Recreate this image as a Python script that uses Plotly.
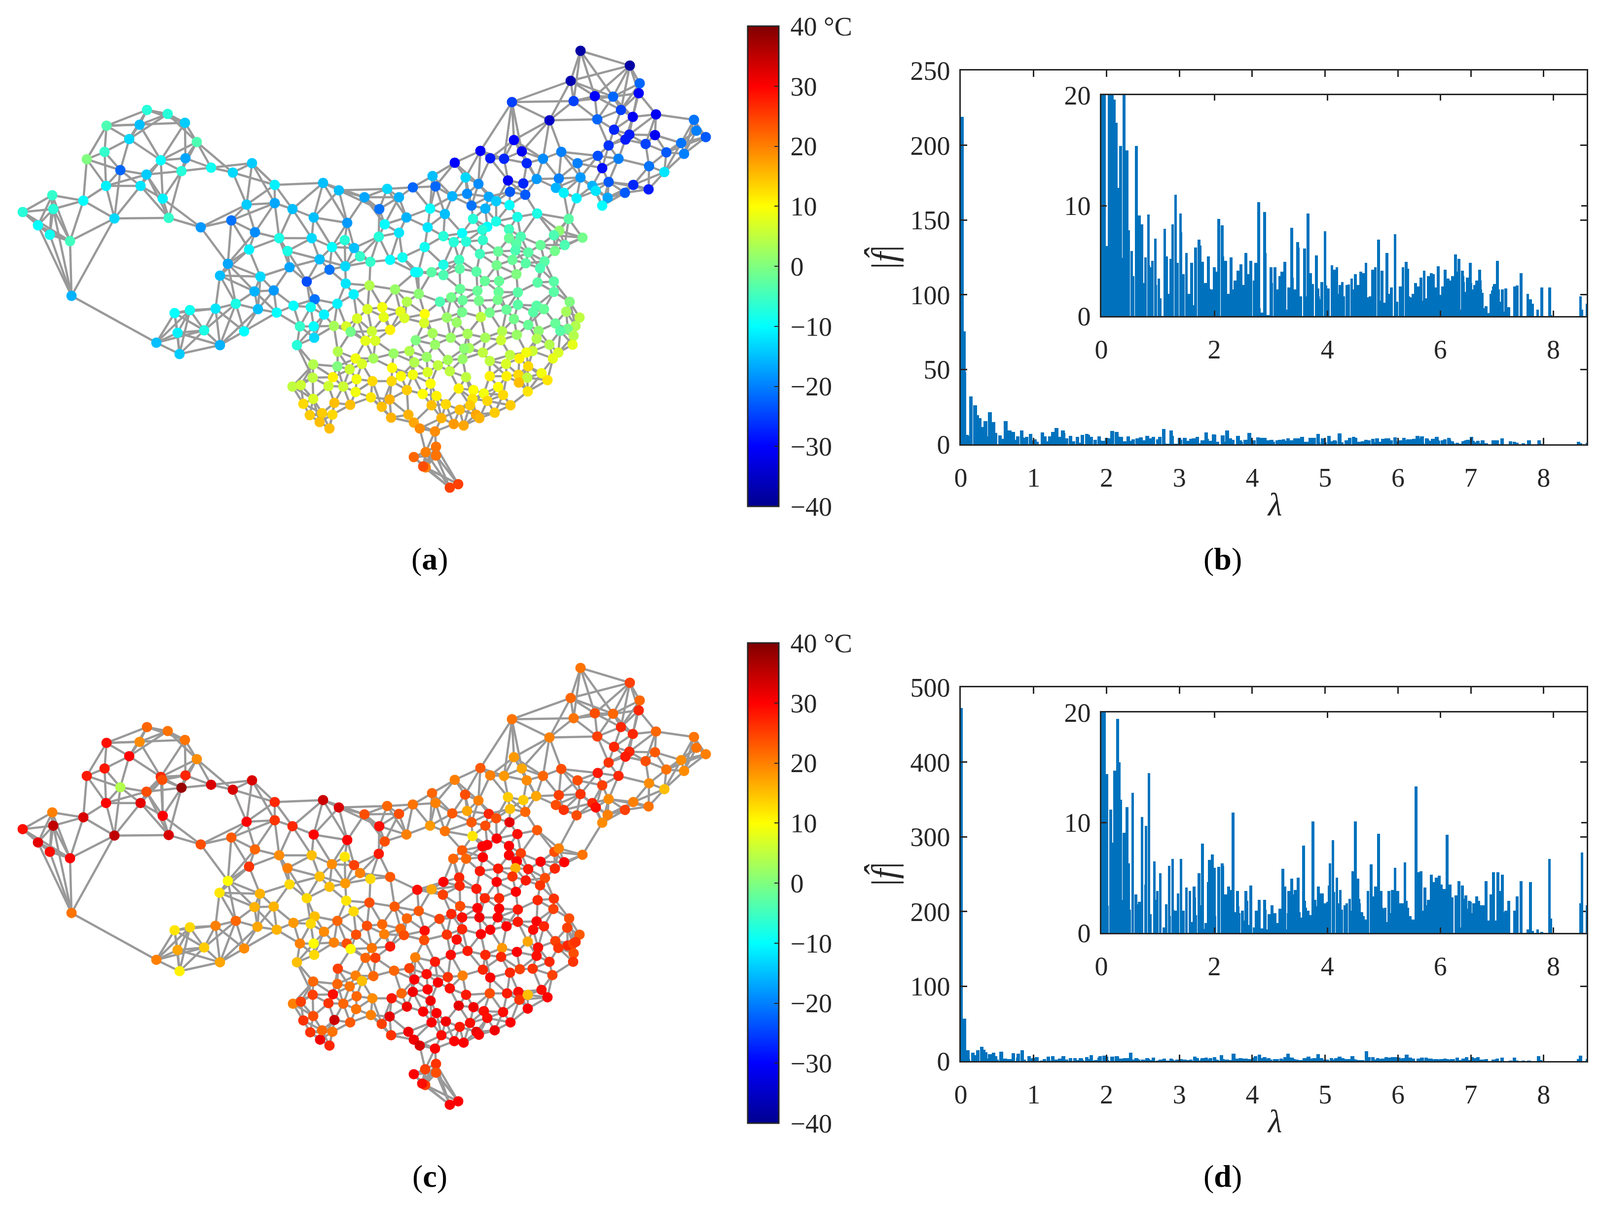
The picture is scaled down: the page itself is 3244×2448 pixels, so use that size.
import numpy as np
import plotly.graph_objects as go

# station positions (map units of the figure) and temperatures, panel (a)
X_A = [298,340,375,283,216,399,262,212,326,376,
       176,428,511,244,368,472,297,215,285,557,
       655,687,785,739,106,169,330,108,46,232,
       342,500,557,593,769,636,469,704,780,407,
       77,101,142,517,566,632,699,768,505,583,
       673,718,730,751,791,462,648,700,668,587,
       446,528,622,701,516,555,717,638,478,595,
       684,437,523,630,561,657,495,414,608,636,
       637,446,602,145,354,385,360,317,364,816,
       1177,1277,1157,1297,1295,1206,1243,1163,1038,1259,
       1330,1283,1114,1211,1407,1245,1412,1328,1276,1268,
       1431,1042,1309,1381,1234,974,1058,1138,1351,1387,
       1212,1101,994,1022,1254,922,1068,1171,1316,1221,
       1347,877,944,1177,1133,1088,1030,970,1061,1234,
       1201,1284,883,837,1127,1315,1208,1034,1267,1143,
       947,809,917,1065,991,1232,1169,1006,1033,1221,
       956,872,984,902,824,1089,1153,959,1049,1006,
       988,867,1032,978,1134,809,937,899,1123,1056,
       1032,1181,920,945,979,1096,1145,1047,861,1125,
       1010,1071,1045,973,1104,1039,931,1066,1007,1095,
       899,932,966,1047,848,875,899,842,
       749,801,849,933,983,1012,1090,1123,1123,1050,
       1011,968,915,938,892,971,1009,1050,1088,1155,
       825,1103,1081,1027,993,937,906,861,775,745,
       812,820,724,778,975,1042,1148,1175,926,860,
       677,702,791,754,711,1071,1126,1167,1018,1092,
       1151,1136,877,948,1048,984,914,1163,1088,843,
       1016,741,761,882,1114,1161,951,941,685,979,
       1080,830,1034,1067,1132,1121,721,1053,798,865,
       993,908,938,757,840,635,1026,734,684,888,
       1071,709,795,867,912,1051,993,1027,945,1098,
       837,813,675,634,723,755,794,1069,1110,1052,
       873,593,610,666,696,930,1010,721,960,825,
       981,857,1070,1020,752,885,635,790,958,988,
       615,678,710,875,904,1035,774,953,932,653,
       674,628,828,965,1003,895,972,793,839,648,
       920,940,851,668,882,884,863,884,839,863,
       858,929,912]
Y_A = [223,231,249,253,255,288,282,308,325,321,
       323,340,331,345,347,350,354,377,377,375,
       371,386,383,400,396,407,403,424,430,443,
       442,415,412,424,424,441,447,452,455,461,
       457,476,489,471,483,483,487,480,506,509,
       501,503,520,531,527,535,526,540,547,542,
       559,561,571,575,591,589,597,607,616,620,
       616,626,627,623,634,638,672,670,662,662,
       685,700,700,600,635,629,675,695,718,522,
       103,133,164,169,189,195,196,205,207,223,
       232,237,244,242,243,263,265,274,273,283,
       278,284,292,290,295,306,307,308,309,312,
       316,322,321,322,322,330,331,331,337,341,
       349,357,360,360,362,363,366,373,372,369,
       377,375,378,380,381,384,387,389,391,391,
       393,400,398,395,399,401,402,408,416,417,
       417,423,423,434,441,433,444,444,440,449,
       460,461,465,466,468,472,473,479,477,480,
       483,482,491,490,487,497,497,495,501,509,
       510,512,508,515,530,527,527,534,538,544,
       537,545,551,556,552,552,558,552,
       579,587,596,586,570,570,573,571,592,593,
       592,590,603,609,612,610,608,618,620,612,
       612,627,633,628,634,633,644,637,623,627,
       632,645,646,643,643,647,632,644,654,655,
       661,662,669,672,673,659,656,661,672,671,
       667,671,676,677,679,685,685,681,687,690,
       690,691,691,699,699,699,706,707,713,715,
       712,712,720,715,715,727,727,727,717,724,
       732,730,728,727,735,739,738,738,743,741,
       743,749,746,755,753,760,763,763,765,757,
       760,763,765,766,769,773,773,766,771,776,
       778,784,781,783,784,788,785,795,791,791,
       798,799,794,801,806,803,809,810,809,813,
       819,817,821,822,820,822,825,822,831,838,
       841,842,841,841,837,848,848,847,857,856,
       860,863,869,869,875,906,917,924,927,948,
       946,982,989]
T_A = [-7,-7,-14,-15,-4,-4,-13,-6,-10,-17,
       0,-9,-14,-22,-7,-13,-14,-11,-12,-11,
       -15,-15,-13,-17,-6,-10,-11,-7,-7,-13,
       -6,-14,-17,-15,-21,-15,-21,-18,-10,-18,
       -10,-9,-5,-19,-8,-13,-7,-7,-11,-8,
       -10,-15,-6,-6,-10,-17,-15,-13,-21,-17,
       -15,-13,-24,-12,-16,-18,-11,-21,-8,-10,
       -11,-12,-15,-9,-10,-11,-10,-8,-6,-10,
       -13,-16,-7,-16,-10,-9,-11,-15,-14,-9,
       -38,-38,-37,-22,-30,-30,-22,-25,-25,-25,
       -31,-31,-35,-22,-21,-27,-20,-31,-28,-28,
       -23,-30,-25,-21,-26,-30,-31,-20,-23,-20,
       -24,-19,-28,-27,-20,-30,-27,-20,-21,-29,
       -12,-15,-13,-18,-20,-18,-31,-19,-27,-23,
       -16,-27,-22,-22,-16,-28,-12,-23,-23,-11,
       -19,-16,-16,-23,-17,-17,-11,-14,-10,-10,
       -21,-10,-16,-15,-16,-8,-3,-7,-8,-8,
       -10,-12,-5,-7,1,-12,-10,-7,-4,-4,
       -2,-1,-7,-7,-6,-2,-4,-3,-9,-1,
       -2,-3,-4,-5,-3,-2,-5,-3,-1,-4,
       -8,-3,-3,0,-7,-3,-4,-10,
       4,2,1,-2,-2,-2,-3,-3,-3,-3,
       -2,-2,-1,-2,-4,-1,-1,-3,-3,0,
       4,-2,-3,-2,-1,-1,2,10,9,7,
       8,7,7,8,5,-1,3,5,2,7,
       3,7,11,6,-1,-2,-2,4,4,1,
       -1,-3,3,3,2,3,2,4,4,0,
       6,8,7,2,4,8,3,1,4,5,
       6,4,5,9,7,8,9,11,2,2,
       5,3,2,3,4,4,7,7,0,5,
       13,6,10,7,5,13,11,11,5,9,
       9,10,11,5,9,13,13,5,12,15,
       10,5,6,6,6,11,10,9,10,14,
       9,10,12,13,12,11,7,16,12,13,
       13,15,15,15,13,14,15,14,15,14,
       13,14,16,17,14,16,16,16,17,15,
       18,17,19,15,19,21,20,21,22,20,
       24,25,25]

# same stations
X_C = [298,340,375,283,216,399,262,212,326,329,
       376,176,428,511,244,368,472,297,215,285,
       557,655,687,785,739,106,169,330,108,46,
       232,342,500,557,593,769,636,469,704,780,
       407,77,101,142,517,566,632,699,768,505,
       583,673,718,730,751,791,462,648,700,668,
       587,445,527,622,702,516,555,749,
       876,943,1030,1061,1087,970,1133,1177,1234,837,
       883,1034,1127,1143,1201,1208,1232,1169,1221,809,
       917,947,991,1006,1065,1033,956,984,872,902,
       824,1089,1049,958,1007,988,978,937,1032,919,
       945,979,1032,1056,1048,1124,1133,1181,1096,1144,
       1045,1071,1010,973,1125,1039,1105,1007,1066,1095,
       899,931,932,966,983,1012,1046,846,875,898,
       933,968,1012,1050,1090,1123,1122,1154,937,972,
       1009,1050,1088,1103,1081,1150,1175,1070,1027,994,
       975,937,915,891,849,825,800,717,684,638,
       630,657,677,703,711,636,637,608,602,595,
       561,522,495,744,775,812,819,722,779,861,
       860,906,926,791,754,741,761,842,882,948,
       914,984,1018,1016,1048,1091,1114,1088,1126,1151,
       1162,1167,1163,1162,1132,1034,1054,1080,1120,994,
       979,938,908,865,840,830,799,757,721,734,
       709,685,684,635,634,675,723,755,794,814,
       837,867,888,912,945,993,1028,1051,1053,1070,
       1098,1110,1070,1020,1035,960,981,988,930,873,
       885,858,825,790,774,828,839,851,882,895,
       875,904,932,921,940,953,966,971,1003,752,
       793,722,710,696,666,635,678,615,629,649,
       668,653,674,594,610,884,862,884,839,862,
       856,929,912,
       1177,1277,1157,1297,1295,1206,1243,1163,1038,1259,
       1330,1283,1114,1211,1407,1245,1412,1328,1276,1268,
       1431,1042,1309,1381,1234,974,1058,1138,1351,1387,
       1212,1101,994,1022,1254,922,1068,1171,1316,1221,
       1347,1284,1315,1267,145,317,354,385,360,364,
       414,446,437,478]
Y_C = [223,231,249,253,255,288,282,307,324,330,
       321,322,340,331,345,346,350,354,377,377,
       375,371,386,383,400,396,406,403,423,430,
       443,442,415,412,424,424,441,447,452,455,
       461,457,476,489,471,483,483,486,480,506,
       509,501,503,519,531,527,535,526,540,547,
       542,559,561,570,575,588,587,579,
       357,360,365,371,363,372,361,359,369,380,
       377,389,381,391,377,386,401,402,417,399,
       398,393,399,408,395,416,416,423,423,434,
       441,432,440,444,449,462,465,473,464,490,
       490,487,483,479,495,476,469,482,496,497,
       509,511,510,515,510,526,529,537,534,544,
       537,528,545,551,570,570,557,553,552,563,
       586,590,591,593,574,571,592,611,609,609,
       609,618,617,627,634,630,644,658,627,634,
       643,633,602,612,596,611,587,597,616,607,
       622,638,660,662,673,662,685,662,700,620,
       634,628,672,626,623,632,645,644,643,636,
       655,644,654,668,671,691,691,690,699,677,
       685,685,671,689,679,670,699,687,657,666,
       662,659,682,699,671,721,714,713,726,731,
       715,727,730,724,735,712,717,728,727,738,
       749,713,744,739,766,765,769,773,773,763,
       760,755,741,753,766,763,763,760,776,766,
       756,771,794,801,822,791,799,813,788,778,
       803,800,790,810,825,841,857,869,875,848,
       822,820,831,860,863,823,841,847,838,807,
       848,795,822,784,783,809,817,818,842,857,
       869,838,841,784,780,906,917,924,927,949,
       946,982,989,
       103,133,164,169,189,195,196,205,207,223,
       232,237,244,242,243,263,265,274,273,283,
       278,284,292,290,295,306,307,308,309,312,
       316,322,321,322,322,330,331,331,337,341,
       349,375,384,391,600,695,635,629,675,718,
       670,700,626,616]
T_C = [22,21,21,19,29,19,30,28,27,24,
       27,28,33,33,4,38,33,24,30,32,
       27,34,33,22,24,20,33,30,35,29,
       35,33,30,26,27,29,30,23,30,24,
       24,32,29,30,22,19,15,12,28,26,
       20,19,25,20,13,23,10,15,18,15,
       13,12,16,13,12,16,16,24,
       22,24,14,14,17,20,25,26,19,21,
       20,15,24,26,27,29,20,24,19,24,
       23,17,27,24,22,32,23,24,18,21,
       20,23,29,12,30,30,30,23,30,22,
       22,30,30,25,30,24,20,21,30,30,
       16,28,28,28,27,26,24,30,28,26,
       30,27,27,28,27,27,30,29,17,25,
       24,30,30,28,27,26,25,24,29,31,
       30,28,30,27,29,25,23,17,30,30,
       30,27,27,25,23,22,23,13,22,15,
       13,19,20,24,10,10,13,20,15,18,
       16,17,19,24,22,22,24,24,20,29,
       24,26,29,28,21,22,25,20,28,28,
       29,27,18,27,30,29,27,29,25,27,
       25,26,24,26,26,27,25,26,25,30,
       27,20,26,29,30,25,22,22,20,15,
       21,25,22,22,25,29,22,19,28,22,
       31,30,30,29,28,24,28,29,26,15,
       29,30,30,29,30,31,29,29,32,31,
       30,30,31,32,25,31,31,33,30,29,
       30,31,28,30,30,29,32,30,31,20,
       26,21,23,22,26,24,34,26,26,31,
       27,22,21,20,25,26,25,24,30,25,
       29,30,30,
       21,25,22,22,27,24,22,21,21,27,
       22,27,20,25,21,27,21,23,27,28,
       20,18,24,19,26,23,17,24,21,19,
       28,22,20,18,27,20,19,24,19,25,
       15,20,21,25,21,20,12,13,17,11,
       14,17,20,22]

# links seen in the picture that the nearest-neighbour rule below does not give
# (pairs of stations, named by their position)
EXTRA_LINKS = [
    ((145,600),(317,695)), ((145,600),(232,443)), ((145,600),(142,489)), ((145,600),(77,457)), ((145,600),(101,476)),
    ((232,443),(342,442)), ((232,443),(142,489)), ((232,443),(169,407)), ((232,443),(215,377)), ((232,443),(285,377)),
    ((342,442),(407,461)), ((342,442),(330,403)), ((342,442),(285,377)), ((330,403),(407,461)), ((330,403),(285,377)),
    ((330,403),(297,354)), ((330,403),(326,325)), ((330,403),(368,347)), ((428,340),(472,350)), ((428,340),(511,331)),
    ((472,350),(557,375)), ((472,350),(500,415)), ((511,331),(500,415)), ((511,331),(557,375)), ((511,331),(557,412)),
    ((557,375),(655,371)), ((655,371),(593,424)), ((655,371),(636,441)), ((687,386),(636,441)), ((687,386),(704,452)),
    ((687,386),(785,383)), ((687,386),(739,400)), ((739,400),(785,383)), ((739,400),(809,400)), ((739,400),(704,452)),
    ((785,383),(837,380)), ((407,461),(469,447)), ((407,461),(500,415)), ((407,461),(462,535)), ((557,412),(469,447)),
    ((376,321),(399,288)), ((375,249),(376,321)), ((326,325),(399,288)), ((399,288),(428,340)), ((262,282),(326,325)),
    ((216,255),(262,282)), ((216,255),(298,223)), ((216,255),(375,249)), ((262,282),(340,231)), ((262,282),(244,345)),
    ((212,308),(262,282)), ((212,308),(216,255)), ((176,323),(216,255)), ((176,323),(212,308)), ((176,323),(215,377)),
    ((176,323),(244,345)), ((212,308),(215,377)), ((212,308),(244,345)), ((244,345),(297,354)), ((244,345),(285,377)),
    ((297,354),(368,347)), ((297,354),(215,377)), ((326,325),(330,403)), ((368,347),(428,340)), ((368,347),(330,403)),
    ((376,321),(428,340)), ((215,377),(285,377)), ((215,377),(169,407)), ((169,407),(106,396)), ((169,407),(108,424)),
    ((169,407),(142,489)), ((46,430),(106,396)), ((46,430),(108,424)), ((46,430),(77,457)), ((46,430),(101,476)),
    ((106,396),(77,457)), ((106,396),(108,424)), ((108,424),(101,476)), ((108,424),(142,489)), ((77,457),(142,489)),
    ((101,476),(142,489)), ((462,535),(505,506)), ((462,535),(517,471)), ((462,535),(446,559)), ((462,535),(528,561)),
    ((462,535),(516,591)), ((446,559),(528,561)), ((446,559),(516,591)), ((446,559),(437,626)), ((528,561),(587,542)),
    ((587,542),(622,571)), ((587,542),(648,526)), ((587,542),(555,589)), ((528,561),(555,589)), ((528,561),(516,591)),
    ((317,695),(354,635)), ((317,695),(360,675)), ((317,695),(364,718)), ((364,718),(360,675)), ((364,718),(414,670)),
    ((364,718),(446,700)), ((354,635),(385,629)), ((354,635),(360,675)), ((385,629),(360,675)), ((385,629),(414,670)),
    ((385,629),(437,626)), ((360,675),(414,670)), ((414,670),(437,626)), ((414,670),(446,700)), ((414,670),(478,616)),
    ((446,700),(478,616)), ((446,700),(495,672)), ((495,672),(478,616)), ((495,672),(523,627)), ((495,672),(561,634)),
    ((446,700),(523,627)), ((602,700),(635,739)), ((635,739),(593,784)), ((602,700),(608,662)), ((602,700),(636,662)),
    ((602,700),(637,685)), ((1038,207),(1157,164)), ((1038,207),(1163,205)), ((1038,207),(1114,244)), ((1038,207),(1042,284)),
    ((1038,207),(1058,307)), ((1042,284),(1114,244)), ((1114,244),(1138,308)), ((1177,103),(1277,133)), ((1177,103),(1157,164)),
    ((1177,103),(1206,195)), ((1177,103),(1243,196)), ((1277,133),(1157,164)), ((1277,133),(1297,169)), ((1277,133),(1295,189)),
    ((1138,308),(1212,316)), ((1138,308),(1101,322)), ((1138,308),(1171,331)), ((1138,308),(1133,362)), ((1254,322),(1316,337)),
    ((1330,232),(1407,243)), ((1330,232),(1328,274)), ((1283,237),(1330,232)), ((1211,242),(1114,244)), ((1316,337),(1347,349)),
    ((1316,337),(1351,309)), ((1316,337),(1315,384)), ((1347,349),(1387,312)), ((1347,349),(1284,375)), ((1347,349),(1315,384)),
    ((1153,444),(1089,433)), ((1153,444),(1134,468)), ((1153,444),(1181,482)), ((1153,444),(1169,402)), ((1181,482),(1145,497)),
    ((1181,482),(1123,477)), ((1089,433),(1049,440)), ((1089,433),(1065,395)), ((1089,433),(1123,477)),
]

# spectrum of panel (b)
LAM_B = [0,.018,.045,.052,.085,.09,.14,.195,.225,.26,.286,.338,.347,.399,.451,.477,.538,.555,.564,.617,
         .669,.721,.747,.782,.834,.843,.869,.904,.956,.965,1.017,1.043,1.122,1.156,1.183,1.226,1.261,1.313,1.348,1.4,
         1.409,1.453,1.505,1.548,1.6,1.618,1.67,1.731,1.749,1.792,1.844,1.897,1.906,1.95,2.0,2.027,2.079,2.14,2.149,2.201,
         2.253,2.297,2.306,2.341,2.367,2.419,2.471,2.515,2.558,2.593,2.645,2.707,2.733,2.785,2.794,2.837,2.889,2.898,2.95,3.003,
         3.011,3.073,3.107,3.159,3.194,3.246,3.264,3.316,3.368,3.377,3.395,3.421,3.473,3.482,3.525,3.595,3.604,3.656,3.7,3.726,
         3.735,3.804,3.83,3.839,3.848,3.905,3.959,3.969,3.985,4.007,4.02,4.08,4.09,4.099,4.109,4.118,4.169,4.179,4.22,4.264,
         4.29,4.344,4.379,4.43,4.449,4.493,4.535,4.545,4.589,4.598,4.627,4.633,4.684,4.719,4.738,4.754,4.799,4.85,4.903,4.913,
         4.964,4.999,5.053,5.063,5.078,5.132,5.138,5.199,5.231,5.288,5.298,5.339,5.393,5.419,5.438,5.473,5.514,5.562,5.578,5.603,
         5.654,5.663,5.714,5.724,5.759,5.79,5.838,5.873,5.883,5.908,5.962,5.988,6.004,6.039,6.083,6.093,6.137,6.172,6.216,6.267,
         6.277,6.328,6.338,6.392,6.398,6.407,6.426,6.477,6.531,6.538,6.557,6.608,6.627,6.643,6.697,6.703,6.713,6.741,6.76,6.811,
         6.853,6.897,6.923,6.935,6.958,7.011,7.027,7.04,7.046,7.097,7.107,7.161,7.212,7.31,7.361,7.431,7.546,7.597,7.632,7.721,
         7.797,7.937,7.956,8.48,8.506,8.601]
F_B = [81.8,219,75.5,48,6.35,5.5,32,26,19.6,17.5,11.6,15.4,5.25,21.6,15,7.75,5.9,2,3.6,15.4,
       9.1,8.3,3,5.3,9.2,4.6,4.4,5,7,2.8,3.4,1.6,7.9,5.4,2,5.2,8.3,11,4.8,9.3,
       7.6,3.8,5.7,2,4.8,1,6.2,6.9,6.4,4.9,3,5.4,2.5,2.4,4.4,4,8.8,8.2,5.4,5,
       2,5.3,1.8,2.4,3.2,4.1,4.7,2.8,5.7,3.8,5,3.2,4.8,10.3,.7,.3,9.4,5.7,.1,4.4,
       3,4.4,2.4,3.6,4,4.9,.6,2.6,8,3.5,2.1,2.4,6.7,6.2,1.8,6.1,1.8,9.3,3.9,1.2,
       2.9,5.5,2.5,1.8,1.5,3.1,7.7,2.75,.97,2.3,2.5,4.6,2.9,.88,1.3,4.2,4.4,2,2.8,3.1,
       1.8,2.8,2.84,3.4,2.4,3.8,2.66,2.8,4,2.8,3.1,3.9,4.8,1.7,1.5,1.8,4.2,4.4,6.9,1.4,
       4.1,1.2,5.7,1.5,2,2.6,2,7.4,1.3,2.7,1.8,4.4,4.9,4.3,1.8,1.7,2,3,1.3,2.7,
       3.5,1.4,4.1,.9,1.6,3.6,3.9,3.8,2.4,2.6,4.5,1.9,1.9,2.7,4.2,2.6,3.4,3.2,3.6,5.6,
       4,5.2,.6,4.1,3.6,3.1,2.2,3.5,4.8,3,2.4,2.8,2.6,3.2,4.2,3.2,2.4,2.1,.7,.9,
       .25,2,2.3,2.7,2.9,5,2.4,.4,1.3,2.4,.4,2.5,.8,2.7,2.75,3.9,2,1.5,1.1,.6,
       2.6,2.6,.07,1.8,.6,1.1]

# spectrum of panel (d)
LAM_D = [0,.05,.094,.103,.164,.199,.207,.233,.286,.312,.338,.347,.399,.451,.477,.495,.555,.608,.617,.669,
         .721,.782,.79,.843,.869,.939,.965,.991,1.043,1.106,1.148,1.2,1.209,1.261,1.27,1.313,1.357,1.409,1.453,1.505,
         1.566,1.592,1.644,1.653,1.67,1.731,1.74,1.792,1.836,1.853,1.897,1.914,1.966,2.0,2.01,2.079,2.14,2.149,2.201,2.253,
         2.289,2.332,2.358,2.41,2.419,2.437,2.498,2.515,2.558,2.575,2.593,2.645,2.707,2.733,2.742,2.794,2.837,2.889,2.898,2.95,
         2.968,3.02,3.073,3.09,3.125,3.159,3.212,3.246,3.255,3.281,3.307,3.316,3.368,3.395,3.421,3.43,3.482,3.499,3.525,3.577,
         3.595,3.612,3.656,3.691,3.743,3.778,3.787,3.839,3.865,3.915,3.934,3.959,4.004,4.029,4.045,4.099,4.115,4.169,4.179,4.229,
         4.255,4.309,4.344,4.395,4.405,4.449,4.493,4.5,4.544,4.554,4.57,4.614,4.639,4.675,4.684,4.719,4.773,4.799,4.853,4.903,
         4.948,4.967,4.977,5.024,5.034,5.088,5.104,5.129,5.148,5.199,5.244,5.279,5.323,5.374,5.393,5.419,5.463,5.479,5.514,5.568,
         5.578,5.603,5.654,5.663,5.673,5.724,5.743,5.759,5.787,5.838,5.847,5.883,5.927,5.978,6.013,6.023,6.039,6.067,6.118,6.172,
         6.179,6.207,6.277,6.328,6.338,6.388,6.398,6.452,6.462,6.513,6.532,6.557,6.592,6.643,6.678,6.697,6.713,6.732,6.757,6.811,
         6.853,6.897,6.942,6.967,7.018,7.028,7.047,7.097,7.107,7.116,7.161,7.212,7.31,7.361,7.431,7.546,7.597,7.632,7.721,7.797,
         7.93,7.956,8.48,8.506,8.601]
F_D = [472,57,14.4,2.45,11.2,8.2,7.5,14.7,19.4,15.5,12.1,3,9.1,11.4,6.3,2.1,12.7,3.5,2.6,2.8,
       10.5,4.4,9.7,14.5,1.7,6.5,3,3.8,5.4,.5,2.6,6.1,1.5,6.7,2.1,2,3.6,6.7,2,4.1,
       3.8,1,4.2,3.2,1.6,5.4,2.5,8.1,.35,.9,4.6,6.6,7.1,5.9,1.5,6,6.3,6.1,3.5,4.2,
       3.9,10.9,1.9,3.8,2.4,1.8,2,1.1,3.8,2.9,.7,4.3,.5,.1,2,3,.4,3,2.1,.3,
       1.7,2.5,1.8,.8,.9,2.2,5.8,4.2,.2,.3,1.8,3.8,4.9,1.8,3.5,3.9,5,1.9,1.4,7.9,
       2.9,2.3,2,1.6,10.1,3,2.4,4.2,3.6,3.6,1.8,2.7,2.8,4.3,6.3,8.4,3.7,5,2.7,3.9,
       2.1,2.5,2.7,3.1,2,5.6,10.1,5.1,4.9,3.1,2.7,1.9,1.5,1.2,1,3.8,6.2,3.3,4.2,9,
       3.8,2.3,2.2,2.3,1,3.8,1.8,1.5,3.9,5.9,3.8,2.7,2.7,6.4,2.9,2.3,1.5,.7,1.2,13.3,
       4.1,5.5,5.6,1.9,2,4.1,1.5,2.5,3,5.3,3.8,4.6,5,5.2,4.4,2.4,1.9,4,8.9,4.4,
       2.9,3.2,3.4,4.7,.5,4.3,3.1,3.4,2.2,2.9,2.8,1.8,2.7,3.3,2.9,1.4,1.2,2.5,2.5,4.7,
       1.1,3.5,5.5,1.1,5.5,.2,3.8,5.3,1.9,.9,2,2.9,2,3.3,4.7,.3,4.6,.2,.3,.1,
       6.7,1.3,2.7,7.3,2.5]

TEMP_TICKS = [-40, -30, -20, -10, 0, 10, 20, 30, 40]
TEMP_LABELS = ['\u2009\u221240', '\u2009\u221230', '\u2009\u221220', '\u2009\u221210', '\u20090',
               '\u200910', '\u200920', '\u200930', '\u200940 \u00b0C']

W, H = 3244, 2448
PAGE_MARGIN = 8  # the browser's default body margin moves the whole figure
INK = '#262626'
FONT = 'Liberation Serif'
JET = [[0, 'rgb(0,0,143)'], [.125, 'rgb(0,0,255)'], [.375, 'rgb(0,255,255)'],
       [.625, 'rgb(255,255,0)'], [.875, 'rgb(255,0,0)'], [1, 'rgb(128,0,0)']]


def paper_x(px):
    return (px - PAGE_MARGIN) / W


def paper_y(py):
    return 1 - (py - PAGE_MARGIN) / H


def hdom(left, right):
    return [paper_x(left), paper_x(right)]


def vdom(top, bottom):
    return [paper_y(bottom), paper_y(top)]


def link_lines(xs, ys, k=5):
    # the graph is a nearest-neighbour one, so most links come from the station positions
    pts = np.column_stack([xs, ys]).astype(float)
    d = np.linalg.norm(pts[:, None] - pts[None, :], axis=2)
    pairs = set()
    for i, row in enumerate(d):
        for j in np.argsort(row)[1:k + 1]:
            pairs.add((min(i, int(j)), max(i, int(j))))
    for p, q in EXTRA_LINKS:
        a = int(np.argmin(np.linalg.norm(pts - p, axis=1)))
        b = int(np.argmin(np.linalg.norm(pts - q, axis=1)))
        if a != b:
            pairs.add((min(a, b), max(a, b)))
    lx, ly = [], []
    for a, b in sorted(pairs):
        lx += [xs[a], xs[b], None]
        ly += [ys[a], ys[b], None]
    return lx, ly


def add_map(fig, xs, ys, temps, n, bar_top):
    lx, ly = link_lines(xs, ys)
    fig.add_trace(go.Scatter(x=lx, y=ly, mode='lines', xaxis=f'x{n}', yaxis=f'y{n}',
                             line=dict(color='#999999', width=4.5), showlegend=False, hoverinfo='skip'))
    fig.add_trace(go.Scatter(x=xs, y=ys, mode='markers', xaxis=f'x{n}', yaxis=f'y{n}', showlegend=False,
                             marker=dict(size=21, color=temps, colorscale=JET, cmin=-40, cmax=40, line_width=0,
                                         colorbar=dict(x=paper_x(1516), xanchor='left', xpad=0, ypad=0,
                                                       y=paper_y(bar_top), yanchor='top',
                                                       thickness=63, thicknessmode='pixels',
                                                       len=974, lenmode='pixels',
                                                       outlinecolor=INK, outlinewidth=3,
                                                       tickmode='array', tickvals=TEMP_TICKS, ticktext=TEMP_LABELS,
                                                       ticks='inside', ticklen=10, tickwidth=2, tickcolor=INK,
                                                       tickfont=dict(family=FONT, size=54, color=INK)))))


def add_spectrum(fig, lam, vals, n, ymax):
    fig.add_trace(go.Bar(x=lam, y=np.minimum(vals, ymax), width=0.05, xaxis=f'x{n}', yaxis=f'y{n}',
                         marker=dict(color='#0072BD', line_width=0), cliponaxis=False, showlegend=False))


def box_axes(dom_x, dom_y, xticks, yticks, ymax, ticklen):
    common = dict(showline=True, linecolor=INK, linewidth=2.5, mirror='ticks', ticks='inside',
                  ticklen=ticklen, tickwidth=2.5, tickcolor=INK, showgrid=False, zeroline=False,
                  tickfont=dict(family=FONT, size=54, color=INK))
    xa = dict(common, domain=dom_x, range=[0, 8.59], tickmode='array', tickvals=xticks, ticklabelstandoff=18)
    ya = dict(common, domain=dom_y, range=[0, ymax], tickmode='array', tickvals=yticks, ticklabelstandoff=8)
    return xa, ya


fig = go.Figure()
add_map(fig, X_A, Y_A, T_A, 1, 53)
add_spectrum(fig, LAM_B, F_B, 2, 250)
add_spectrum(fig, LAM_B, F_B, 3, 20)
add_map(fig, X_C, Y_C, T_C, 4, 1304)
add_spectrum(fig, LAM_D, F_D, 5, 500)
add_spectrum(fig, LAM_D, F_D, 6, 20)

main_x = list(range(9))
inset_x = [0, 2, 4, 6, 8]
inset_y = [0, 10, 20]
hidden = dict(visible=False)
x2, y2 = box_axes(hdom(1948, 3217), vdom(143, 901), main_x, [0, 50, 100, 150, 200, 250], 250, 13)
x3, y3 = box_axes(hdom(2233, 3217), vdom(193, 641), inset_x, inset_y, 20, 11)
x5, y5 = box_axes(hdom(1948, 3217), vdom(1394, 2152), main_x, [0, 100, 200, 300, 400, 500], 500, 13)
x6, y6 = box_axes(hdom(2233, 3217), vdom(1445, 1892), inset_x, inset_y, 20, 11)
y2['anchor'], x2['anchor'] = 'x2', 'y2'
y3['anchor'], x3['anchor'] = 'x3', 'y3'
y5['anchor'], x5['anchor'] = 'x5', 'y5'
y6['anchor'], x6['anchor'] = 'x6', 'y6'

notes = []
for text, px, py, size, angle in [
    ('<i>\u03bb</i>', 2584, 1022, 66, 0), ('<i>\u03bb</i>', 2584, 2273, 66, 0),
    ('|<i>f\u0302</i>|', 1792, 522, 72, -90), ('|<i>f\u0302</i>|', 1792, 1773, 72, -90),
    ('(<b>a</b>)', 871, 1134, 64, 0), ('(<b>b</b>)', 2479, 1134, 64, 0),
    ('(<b>c</b>)', 871, 2385, 64, 0), ('(<b>d</b>)', 2479, 2385, 64, 0),
]:
    color = 'black' if text.startswith('(') else INK
    notes.append(dict(text=text, x=paper_x(px), y=paper_y(py), xref='paper', yref='paper', showarrow=False,
                      xanchor='center', yanchor='middle', textangle=angle,
                      font=dict(family=FONT, size=size, color=color)))

fig.update_layout(
    width=W, height=H, autosize=False, margin=dict(l=0, r=0, t=0, b=0, autoexpand=False),
    paper_bgcolor='white', plot_bgcolor='rgba(0,0,0,0)', barmode='overlay', bargap=0, showlegend=False,
    xaxis=dict(hidden, domain=hdom(8, 1500), range=[8, 1500]),
    yaxis=dict(hidden, domain=vdom(8, 1100), range=[1100, 8]),
    xaxis4=dict(hidden, domain=hdom(8, 1500), range=[8, 1500], anchor='y4'),
    yaxis4=dict(hidden, domain=vdom(1251.7, 2351.7), range=[1100, 0], anchor='x4'),
    xaxis2=x2, yaxis2=y2, xaxis3=x3, yaxis3=y3, xaxis5=x5, yaxis5=y5, xaxis6=x6, yaxis6=y6,
    annotations=notes,
)
fig.write_html("out.html")
